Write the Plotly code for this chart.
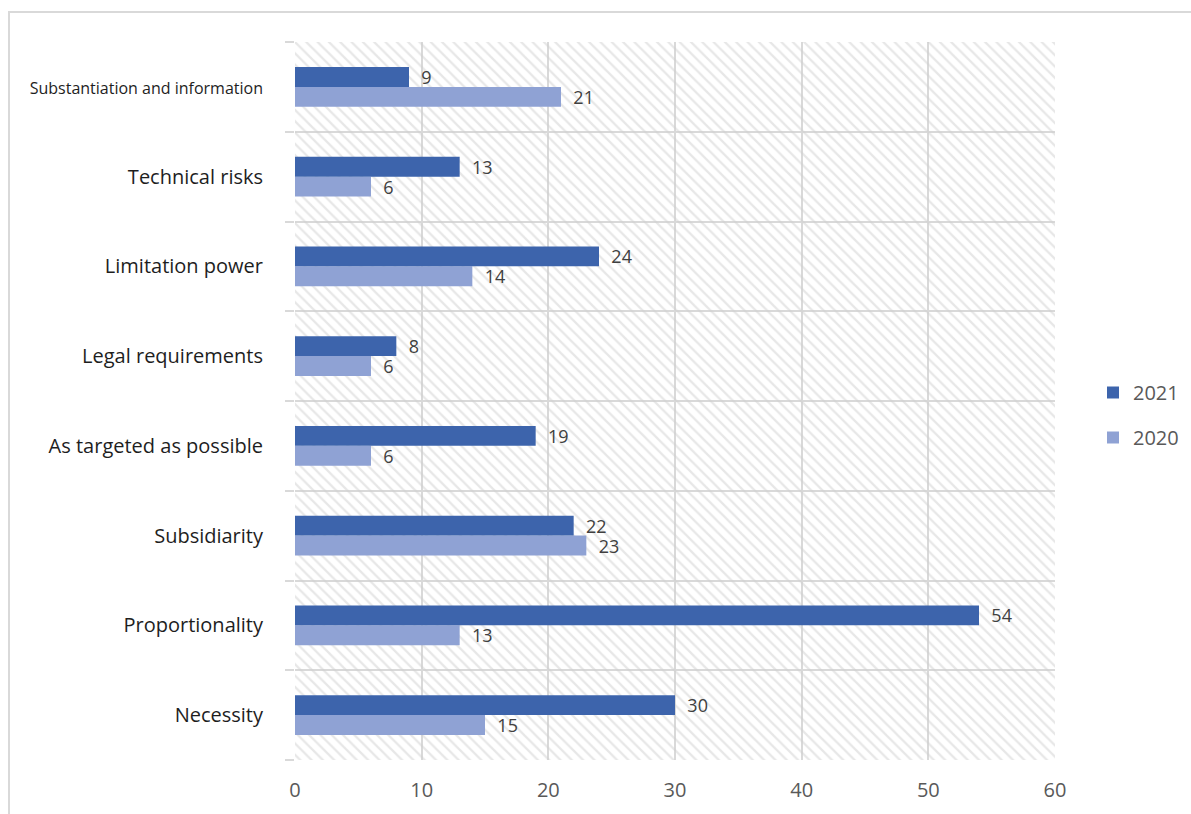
import plotly.graph_objects as go

# ---- data ----
categories = ["Necessity", "Proportionality", "Subsidiarity", "As targeted as possible",
              "Legal requirements", "Limitation power", "Technical risks",
              "Substantiation and information"]
tick_labels = ["Necessity", "Proportionality", "Subsidiarity", "As targeted as possible",
               "Legal requirements", "Limitation power", "Technical risks",
               "<span style='font-size:16px'>Substantiation and information</span>"]
values_2021 = [30, 54, 22, 19, 8, 24, 13, 9]
values_2020 = [15, 13, 23, 6, 6, 14, 6, 21]
x_ticks = [0, 10, 20, 30, 40, 50, 60]
x_max = 60

DARK = "#3D64AC"
LIGHT = "#8FA2D4"
GRID = "#D9D9D9"

fig = go.Figure()

# hatched plot background (spans whole plot area on the main axes)
fig.add_trace(go.Bar(
    x=[x_max], y=[len(categories) / 2], width=[len(categories)], orientation="h",
    marker=dict(color="rgba(0,0,0,0)", line=dict(width=0),
                pattern=dict(shape="\\", fgcolor="#D0D0D0", bgcolor="rgba(0,0,0,0)",
                             size=8, solidity=0.28)),
    showlegend=False, hoverinfo="skip", xaxis="x", yaxis="y"))

label_font = dict(size=18, color="#404040", family="Open Sans")
fig.add_trace(go.Bar(
    name="2020", x=values_2020, y=categories, orientation="h",
    marker=dict(color=LIGHT, line=dict(width=0)),
    text=values_2020, texttemplate="\u00a0\u00a0%{x}", textposition="outside",
    textfont=label_font, constraintext="none",
    cliponaxis=False, xaxis="x", yaxis="y2", legendrank=2, legendgroup="a"))
fig.add_trace(go.Bar(
    name="2021", x=values_2021, y=categories, orientation="h",
    marker=dict(color=DARK, line=dict(width=0)),
    text=values_2021, texttemplate="\u00a0\u00a0%{x}", textposition="outside",
    textfont=label_font, constraintext="none",
    cliponaxis=False, xaxis="x", yaxis="y2", legendrank=1, legendgroup="b"))

W, H = 1191, 814
x0, x1 = 295 / W, 1055 / W
y0, y1 = (H - 760) / H, (H - 42) / H

fig.update_layout(
    width=W, height=H,
    margin=dict(l=0, r=0, t=0, b=0),
    paper_bgcolor="white", plot_bgcolor="white",
    barmode="group", bargap=0.555, bargroupgap=0,
    font=dict(family="Open Sans", color="#595959"),
    xaxis=dict(domain=[x0, x1], range=[0, x_max], tickvals=x_ticks,
               showgrid=True, gridcolor=GRID, gridwidth=2, zeroline=False,
               showline=False, ticks="", ticklabelstandoff=16, automargin=False,
               tickfont=dict(size=20, color="#595959"), fixedrange=True),
    yaxis=dict(domain=[y0, y1], range=[0, len(categories)], dtick=1, tick0=0,
               showgrid=True, gridcolor=GRID, gridwidth=2, zeroline=False,
               showline=False, ticks="outside", ticklen=9, tickcolor=GRID,
               tickwidth=2, showticklabels=False, fixedrange=True, automargin=False),
    yaxis2=dict(overlaying="y", side="left", type="category",
                categoryorder="array", categoryarray=categories,
                tickvals=categories, ticktext=tick_labels,
                range=[-0.5, len(categories) - 0.5], automargin=False,
                showgrid=False, zeroline=False, showline=False, ticks="",
                ticklabelstandoff=31,
                tickfont=dict(size=20, color="#1E1E1E", family="Open Sans"),
                fixedrange=True),
    legend=dict(x=1093 / W, xanchor="left", y=(H - 415) / H, yanchor="middle",
                font=dict(size=20, color="#595959"), tracegroupgap=16,
                traceorder="grouped", bgcolor="rgba(0,0,0,0)"),
    shapes=[dict(type="rect", xref="paper", yref="paper",
                 x0=9 / W, x1=1.01, y0=-0.01, y1=(H - 12) / H,
                 line=dict(color="#D9D9D9", width=2), fillcolor="rgba(0,0,0,0)",
                 layer="below")],
)

fig.write_html("out.html")
